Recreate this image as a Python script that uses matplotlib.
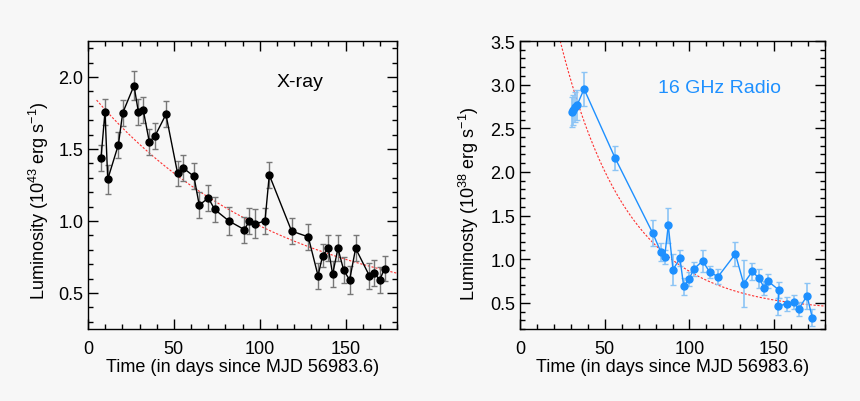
import numpy as np
import matplotlib.pyplot as plt
from matplotlib.ticker import MultipleLocator

plt.rcParams['font.family'] = ['Liberation Sans', 'DejaVu Sans']
plt.rcParams['mathtext.fontset'] = 'custom'
plt.rcParams['mathtext.rm'] = 'Liberation Sans'

# X-ray light curve (1e43 erg/s)
xray_t = [7.6, 9.9, 11.5, 17.7, 20.2, 26.8, 29.3, 32.2, 35.7, 39.0, 45.4, 52.2, 55.3,
          61.7, 64.8, 70.1, 73.8, 82.1, 91.1, 94.0, 97.3, 103.1, 105.6, 118.6, 128.3,
          134.0, 136.7, 140.0, 142.5, 145.6, 148.9, 152.4, 155.9, 163.9, 166.8, 169.9, 172.8]
xray_l = [1.44, 1.76, 1.29, 1.53, 1.75, 1.94, 1.76, 1.77, 1.55, 1.59, 1.74, 1.33, 1.37,
          1.31, 1.11, 1.16, 1.08, 1.00, 0.94, 1.00, 0.98, 1.00, 1.32, 0.93, 0.89,
          0.62, 0.76, 0.81, 0.63, 0.81, 0.66, 0.59, 0.81, 0.62, 0.64, 0.59, 0.67]
xray_err = [0.09, 0.09, 0.10, 0.09, 0.09, 0.10, 0.09, 0.09, 0.09, 0.09, 0.09, 0.09, 0.09,
            0.09, 0.09, 0.09, 0.09, 0.10, 0.09, 0.09, 0.10, 0.09, 0.09, 0.09, 0.09,
            0.09, 0.08, 0.09, 0.09, 0.09, 0.09, 0.10, 0.09, 0.09, 0.09, 0.09, 0.09]

# 16 GHz radio light curve (1e38 erg/s)
radio_t = [30.5, 31.5, 32.5, 33.8, 37.8, 56.1, 78.3, 83.2, 85.4, 87.5, 90.3, 94.4, 96.6,
           99.7, 102.7, 107.8, 112.0, 116.9, 127.1, 132.0, 137.1, 141.1, 144.2, 146.2,
           152.6, 152.3, 157.4, 161.5, 164.5, 169.4, 172.5]
radio_l = [2.69, 2.71, 2.74, 2.77, 2.95, 2.16, 1.30, 1.08, 1.03, 1.39, 0.88, 1.01, 0.69,
           0.77, 0.89, 0.98, 0.85, 0.80, 1.06, 0.72, 0.86, 0.78, 0.67, 0.75,
           0.65, 0.46, 0.49, 0.51, 0.43, 0.58, 0.33]
radio_err = [0.17, 0.17, 0.17, 0.17, 0.19, 0.14, 0.15, 0.10, 0.08, 0.20, 0.18, 0.09, 0.10,
             0.08, 0.08, 0.13, 0.07, 0.09, 0.14, 0.27, 0.10, 0.11, 0.08, 0.08,
             0.09, 0.10, 0.08, 0.08, 0.08, 0.15, 0.10]

# decay fits: a*exp(-t/tau) + c
xray_fit = dict(a=1.58, tau=110.0, c=0.33, t0=5.0)
radio_fit = dict(a=5.61, tau=40.0, c=0.40, t0=20.0)

bg = '#f7f7f7'
fs = 13
fig = plt.figure(figsize=(8.6, 4.02), dpi=100, facecolor=bg)
ax1 = fig.add_axes([88/860, 72/402, 309/860, 288/402], facecolor=bg)
ax2 = fig.add_axes([520/860, 72/402, 305/860, 288/402], facecolor=bg)

def style(ax, ymaj):
    ax.set_xlim(0, 180)
    ax.xaxis.set_major_locator(MultipleLocator(50))
    ax.xaxis.set_minor_locator(MultipleLocator(10))
    ax.yaxis.set_major_locator(MultipleLocator(ymaj))
    ax.yaxis.set_minor_locator(MultipleLocator(0.1))
    ax.yaxis.set_major_formatter(plt.FormatStrFormatter('%.1f'))
    ax.tick_params(which='both', direction='in', top=True, right=True, labelsize=fs,
                   width=1, color='black')
    ax.tick_params(which='major', length=7)
    ax.tick_params(which='minor', length=3.5)
    ax.tick_params(axis='x', pad=8)
    for s in ax.spines.values():
        s.set_linewidth(1)
    ax.set_xlabel('Time (in days since MJD 56983.6)', fontsize=fs, labelpad=1)

# X-ray
tt = np.linspace(xray_fit['t0'], 180, 200)
ax1.plot(tt, xray_fit['a'] * np.exp(-tt / xray_fit['tau']) + xray_fit['c'],
         color='red', lw=0.8, ls=(0, (2, 1.5)), alpha=0.8)
ax1.errorbar(xray_t, xray_l, yerr=xray_err, fmt='none', ecolor='#777777',
             elinewidth=1, capsize=2, capthick=1)
ax1.plot(xray_t, xray_l, '-o', color='black', lw=1, ms=5)
ax1.set_ylim(0.25, 2.25)
style(ax1, 0.5)
ax1.set_ylabel('Luminosity (10$^{43}$ erg s$^{-1}$)', fontsize=fs)
ax1.yaxis.set_label_coords(-0.12, 0.45)
ax1.text(123.5, 1.97, 'X-ray', fontsize=14, ha='center', va='center')

# Radio
tt = np.linspace(radio_fit['t0'], 180, 300)
ax2.plot(tt, radio_fit['a'] * np.exp(-tt / radio_fit['tau']) + radio_fit['c'],
         color='red', lw=0.8, ls=(0, (2, 1.5)), alpha=0.8)
ax2.errorbar(radio_t, radio_l, yerr=radio_err, fmt='none', ecolor='#8cc4f5',
             elinewidth=1.2, capsize=2, capthick=1)
ax2.plot(radio_t, radio_l, '-o', color='#1e90ff', lw=1, ms=5)
ax2.set_ylim(0.2, 3.5)
style(ax2, 0.5)
ax2.set_ylabel('Luminosty (10$^{38}$ erg s$^{-1}$)', fontsize=fs)
ax2.yaxis.set_label_coords(-0.128, 0.44)
ax2.text(118, 2.97, '16 GHz Radio', fontsize=14, ha='center', va='center', color='#1e90ff')

fig.savefig('out.png', dpi=100, facecolor=bg)
